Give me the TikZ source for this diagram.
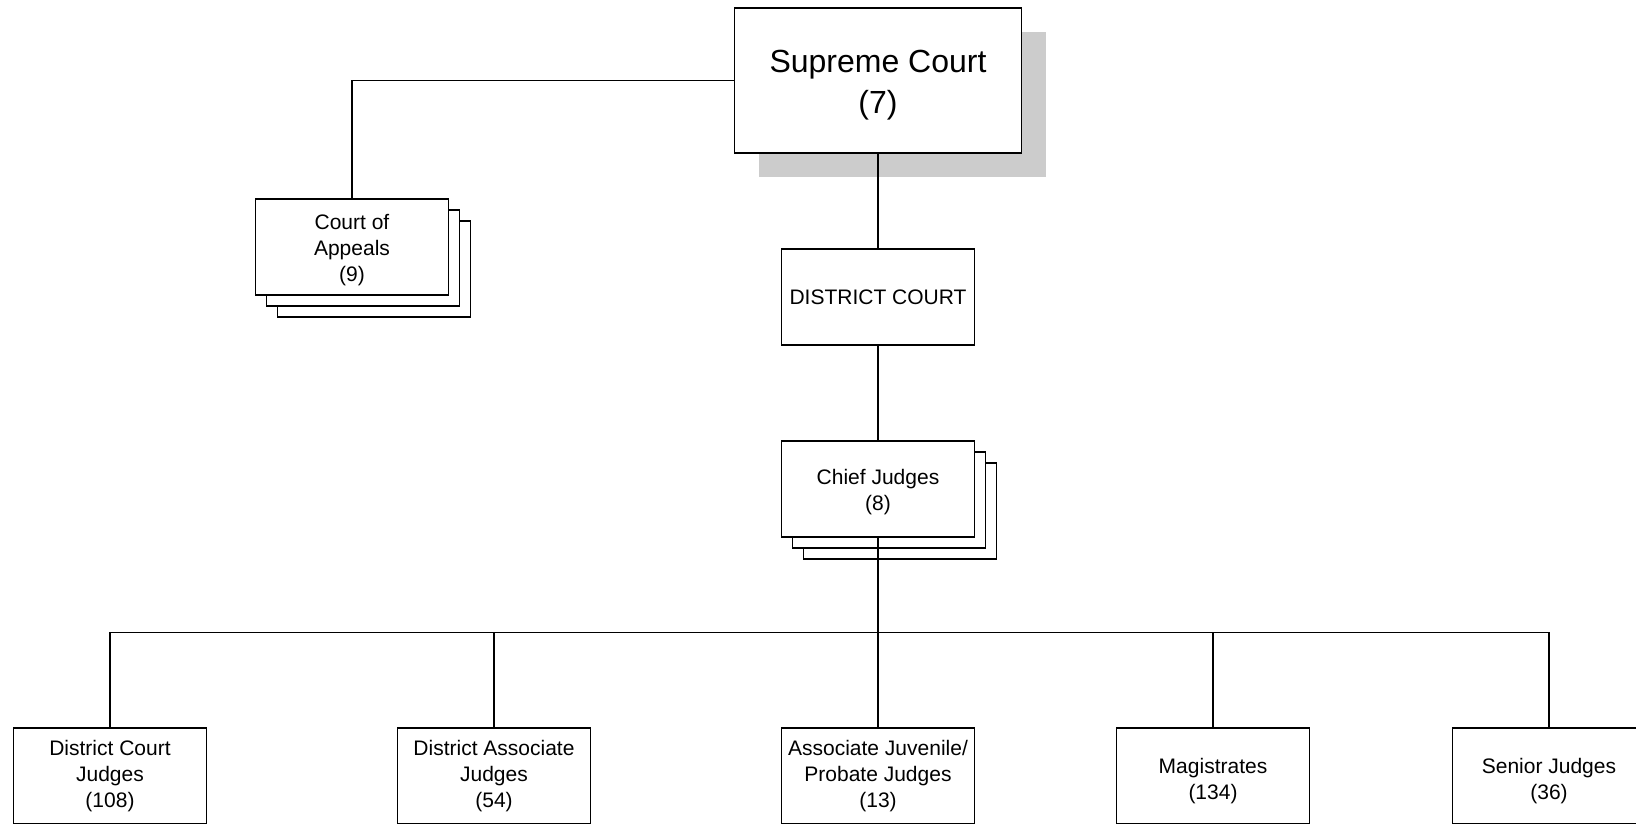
\documentclass[tikz,border=0pt]{standalone}
\usepackage{fontspec}
\setmainfont{Liberation Sans}
\usetikzlibrary{positioning,shadows,calc}
\tikzset{
    courtbox/.style={
        draw,
        line width=1.8pt,
        fill=white,
        align=center,
        font=\fontsize{21}{26}\selectfont,
        inner sep=0pt,
        outer sep=0pt,
        minimum width=193pt,
        minimum height=96pt
    },
    topbox/.style={
        courtbox,
        font=\fontsize{32}{41.5}\selectfont,
        minimum width=287pt,
        minimum height=145pt,
        drop shadow={shadow xshift=24pt, shadow yshift=-24pt, fill=gray!40, opacity=1}
    },
    stackbox/.style={
        courtbox,
        copy shadow={shadow xshift=22pt, shadow yshift=-22pt},
        copy shadow={shadow xshift=11pt, shadow yshift=-11pt}
    },
    link/.style={
        line width=1.2pt
    }
}
\newcommand{\lowtext}{\rule{0pt}{20pt}}
\begin{document}
\begin{tikzpicture}[x=1pt, y=-1pt, node distance=96pt and 191pt]
        \useasboundingbox (0,0) rectangle (1636,823);
        \clip (0,0) rectangle (1636,823);

        \node[topbox] (supreme) at (878,80.8) {\rule{0pt}{31pt}Supreme Court\\(7)};

        \node[stackbox, below left=46pt and 286pt of supreme.south west, anchor=north east] (appeals) {
            \lowtext Court of\\
            Appeals\\
            (9)
        };

        \node[courtbox, below=of supreme] (district) {DISTRICT COURT};

        \node[stackbox, below=of district] (chief) {
            \lowtext Chief Judges\\
            (8)
        };

        % bottom row
        \node[courtbox, below=191pt of chief] (ajp) {
            Associate Juvenile/\\
            Probate Judges\\
            (13)
        };
        \node[courtbox, left=of ajp] (daj) {
            District Associate\\
            Judges\\
            (54)
        };
        \node[courtbox, left=of daj] (dcj) {
            District Court\\
            Judges\\
            (108)
        };
        \node[courtbox, right=142pt of ajp] (mag) {
            \rule{0pt}{24pt}Magistrates\\
            (134)
        };
        \node[courtbox, right=143pt of mag] (sen) {
            \rule{0pt}{24pt}Senior Judges\\
            (36)
        };

        \draw[link] (supreme.west) -| (appeals.north);
        \draw[link] (supreme.south) -- (district.north);
        \draw[link] (district.south) -- (chief.north);
        \draw[link] (chief.south) -- (ajp.north);

        \coordinate (bus) at ($(chief.south)!.5!(ajp.north)$);
        \foreach \n in {dcj,daj,mag,sen}
            \draw[link] (bus) -| (\n.north);
    \end{tikzpicture}
\end{document}
